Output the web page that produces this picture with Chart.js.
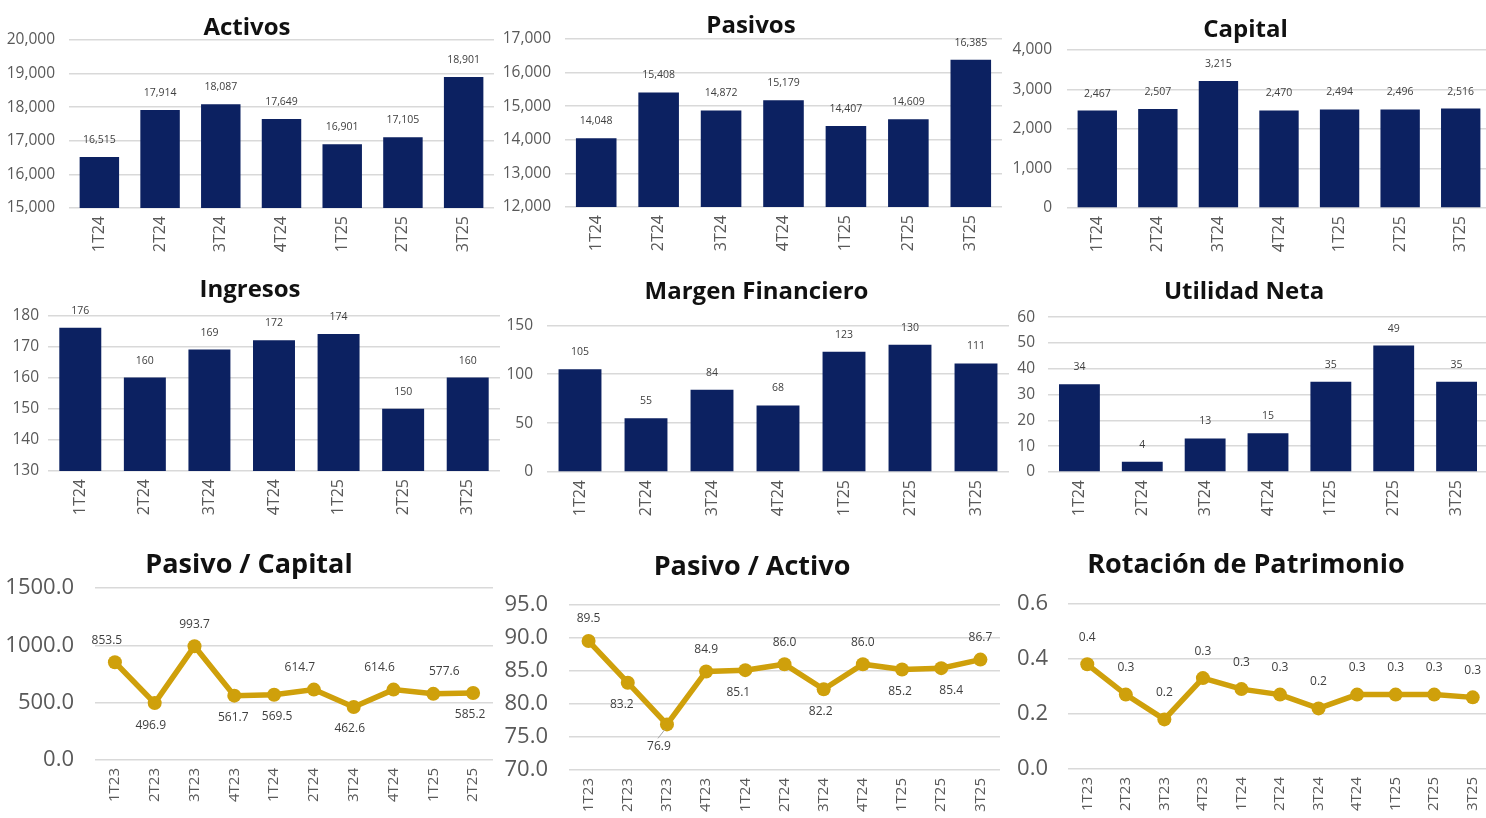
<!DOCTYPE html>
<html>
<head>
<meta charset="utf-8">
<script src="https://cdn.jsdelivr.net/npm/chart.js@4"></script>
<style>
  body { margin: 0; width: 1486px; height: 818px; overflow: hidden; background: #fff; position: relative; }
  .box { position: absolute; }
</style>
</head>
<body>
<div class="box" id="b1"><canvas id="c1"></canvas></div>
<div class="box" id="b2"><canvas id="c2"></canvas></div>
<div class="box" id="b3"><canvas id="c3"></canvas></div>
<div class="box" id="b4"><canvas id="c4"></canvas></div>
<div class="box" id="b5"><canvas id="c5"></canvas></div>
<div class="box" id="b6"><canvas id="c6"></canvas></div>
<div class="box" id="b7"><canvas id="c7"></canvas></div>
<div class="box" id="b8"><canvas id="c8"></canvas></div>
<div class="box" id="b9"><canvas id="c9"></canvas></div>
<script>
// quarters
const barQuarters = ["1T24", "2T24", "3T24", "4T24", "1T25", "2T25", "3T25"];
const pcQuarters = ["1T23", "2T23", "3T23", "4T23", "1T24", "2T24", "3T24", "4T24", "1T25", "2T25"];
const lineQuarters = ["1T23", "2T23", "3T23", "4T23", "1T24", "2T24", "3T24", "4T24", "1T25", "2T25", "3T25"];

// bar series
const activos = [16515, 17914, 18087, 17649, 16901, 17105, 18901];
const pasivos = [14048, 15408, 14872, 15179, 14407, 14609, 16385];
const capital = [2467, 2507, 3215, 2470, 2494, 2496, 2516];
const ingresos = [176, 160, 169, 172, 174, 150, 160];
const margen = [105, 55, 84, 68, 123, 130, 111];
const utilidad = [34, 4, 13, 15, 35, 49, 35];

// line series
const pasivoCapital = [853.5, 496.9, 993.7, 561.7, 569.5, 614.7, 462.6, 614.6, 577.6, 585.2];
const pasivoActivo = [89.5, 83.2, 76.9, 84.9, 85.1, 86.0, 82.2, 86.0, 85.2, 85.4, 86.7];
const rotacion = [0.38, 0.27, 0.18, 0.33, 0.29, 0.27, 0.22, 0.27, 0.27, 0.27, 0.26];

// label placement (t = above, b = below, bl = below with leader) and sideways nudge
const pcLabelPos = ["t", "b", "t", "b", "b", "t", "b", "t", "t", "b"];
const pcLabelDx = [-8, -4, 0, -1, 3, -14, -4, -14, 11, -3];
const paLabelPos = ["t", "b", "bl", "t", "b", "t", "b", "t", "b", "b", "t"];
const paLabelDx = [0, -6, -8, 0, -7, 0, -3, 0, -2, 10, 0];

const NAVY = "#0C2161";
const GOLD = "#CFA00B";
const FONT = "'Open Sans', sans-serif";

const thousands = (v) => Number(v).toLocaleString("en-US");
const oneDec = (v) => Number(v).toFixed(1);

function valueLabels(fmt, gap, size, pos, dx) {
  return {
    id: "valueLabels",
    afterDatasetsDraw(chart) {
      const ctx = chart.ctx;
      const meta = chart.getDatasetMeta(0);
      const data = chart.data.datasets[0].data;
      ctx.save();
      ctx.font = size + "px " + FONT;
      ctx.fillStyle = "#404040";
      ctx.textAlign = "center";
      ctx.textBaseline = "middle";
      meta.data.forEach((el, i) => {
        const p = pos ? pos[i] : "t";
        const x = el.x + (dx ? dx[i] : 0);
        const y = p === "t" ? el.y - gap : el.y + gap;
        if (p === "bl") {
          ctx.strokeStyle = "#a6a6a6";
          ctx.lineWidth = 1;
          ctx.beginPath();
          ctx.moveTo(el.x - 2, el.y + 5);
          ctx.lineTo(x - 1, y - 8);
          ctx.stroke();
        }
        ctx.fillText(fmt(data[i]), x, y);
      });
      ctx.restore();
    },
  };
}

function build(id, s) {
  const box = document.getElementById("b" + id);
  const cv = document.getElementById("c" + id);
  box.style.left = s.box.l + "px";
  box.style.top = s.box.t + "px";
  cv.width = s.box.w;
  cv.height = s.box.h;
  const isBar = s.type === "bar";
  const dataset = isBar
    ? { data: s.values, backgroundColor: NAVY, borderWidth: 0, barPercentage: 0.65, categoryPercentage: 1 }
    : {
        data: s.values, borderColor: GOLD, borderWidth: 5.5, backgroundColor: GOLD,
        pointRadius: 7, pointBackgroundColor: GOLD, pointBorderWidth: 0, tension: 0,
      };
  return new Chart(cv, {
    type: s.type,
    data: { labels: s.labels, datasets: [dataset] },
    options: {
      responsive: false,
      animation: false,
      layout: { padding: { left: 0, right: s.padR, top: 0, bottom: 0 } },
      plugins: {
        legend: { display: false },
        tooltip: { enabled: false },
        title: {
          display: true,
          text: s.title,
          color: "#111",
          font: { family: FONT, size: s.titleSize, weight: "bold", lineHeight: 1 },
          padding: { top: s.pt, bottom: s.pb },
        },
      },
      scales: {
        x: {
          offset: true,
          grid: { display: false },
          border: { display: false },
          ticks: {
            color: "#595959",
            font: { family: FONT, size: s.xSize },
            minRotation: 90,
            maxRotation: 90,
            autoSkip: false,
            padding: 0,
          },
          afterFit: (sc) => { sc.height = s.xH; },
        },
        y: {
          min: s.min,
          max: s.max,
          grid: { color: "#d9d9d9", lineWidth: 1.5, drawTicks: false },
          border: { display: false },
          ticks: {
            stepSize: s.step,
            color: "#595959",
            font: { family: FONT, size: s.ySize },
            padding: s.tickPad,
            callback: (v) => s.tickFmt(v),
          },
          afterFit: (sc) => { sc.width = s.yW; },
        },
      },
    },
    plugins: [valueLabels(s.labelFmt, s.gap, s.labelSize, s.pos, s.dx)],
  });
}

const barBase = { type: "bar", labels: barQuarters, titleSize: 24, xSize: 16, ySize: 15.5, labelSize: 10.5, gap: 17, tickFmt: thousands, labelFmt: thousands };
const lineBase = { type: "line", titleSize: 27, xSize: 15, ySize: 22, labelSize: 12, gap: 22, tickFmt: oneDec, labelFmt: oneDec };

build(1, { ...barBase, title: "Activos", values: activos, min: 15000, max: 20000, step: 1000,
  box: { l: 0, t: 0, w: 500, h: 262 }, yW: 69, padR: 6, pt: 16, pb: 0, xH: 54, tickPad: 14 });
build(2, { ...barBase, title: "Pasivos", values: pasivos, min: 12000, max: 17000, step: 1000,
  box: { l: 500, t: 0, w: 506, h: 262 }, yW: 65, padR: 4, pt: 14, pb: 1, xH: 55, tickPad: 14 });
build(3, { ...barBase, title: "Capital", values: capital, min: 0, max: 4000, step: 1000,
  box: { l: 1000, t: 0, w: 500, h: 262 }, yW: 67, padR: 9, pt: 18, pb: 8, xH: 54, tickPad: 15 });
build(4, { ...barBase, title: "Ingresos", values: ingresos, min: 130, max: 180, step: 10,
  box: { l: 0, t: 262, w: 510, h: 268 }, yW: 48, padR: 10, pt: 16, pb: 13.3, xH: 59, tickPad: 9 });
build(5, { ...barBase, title: "Margen Financiero", values: margen, min: 0, max: 150, step: 50,
  box: { l: 504, t: 262, w: 506, h: 268 }, yW: 43, padR: 1, pt: 18, pb: 21.3, xH: 58, tickPad: 14 });
build(6, { ...barBase, title: "Utilidad Neta", values: utilidad, min: 0, max: 60, step: 10,
  box: { l: 1000, t: 262, w: 500, h: 268 }, yW: 48, padR: 12, pt: 18, pb: 13.2, xH: 58, tickPad: 13 });
build(7, { ...lineBase, title: "Pasivo / Capital", labels: pcQuarters, values: pasivoCapital, pos: pcLabelPos, dx: pcLabelDx,
  min: 0, max: 1500, step: 500,
  box: { l: 0, t: 530, w: 500, h: 288 }, yW: 95, padR: 2, pt: 21.5, pb: 9.7, xH: 58, tickPad: 21 });
build(8, { ...lineBase, title: "Pasivo / Activo", labels: lineQuarters, values: pasivoActivo, pos: paLabelPos, dx: paLabelDx,
  min: 70, max: 95, step: 5,
  box: { l: 497, t: 530, w: 510, h: 288 }, yW: 72, padR: 0, pt: 23.5, pb: 24.2, xH: 48, tickPad: 21 });
build(9, { ...lineBase, title: "Rotación de Patrimonio", labels: lineQuarters, values: rotacion, gap: 27,
  min: 0, max: 0.6, step: 0.2,
  box: { l: 1000, t: 530, w: 504, h: 288 }, yW: 68, padR: 12, pt: 21.5, pb: 25.2, xH: 49, tickPad: 20 });
</script>
</body>
</html>
